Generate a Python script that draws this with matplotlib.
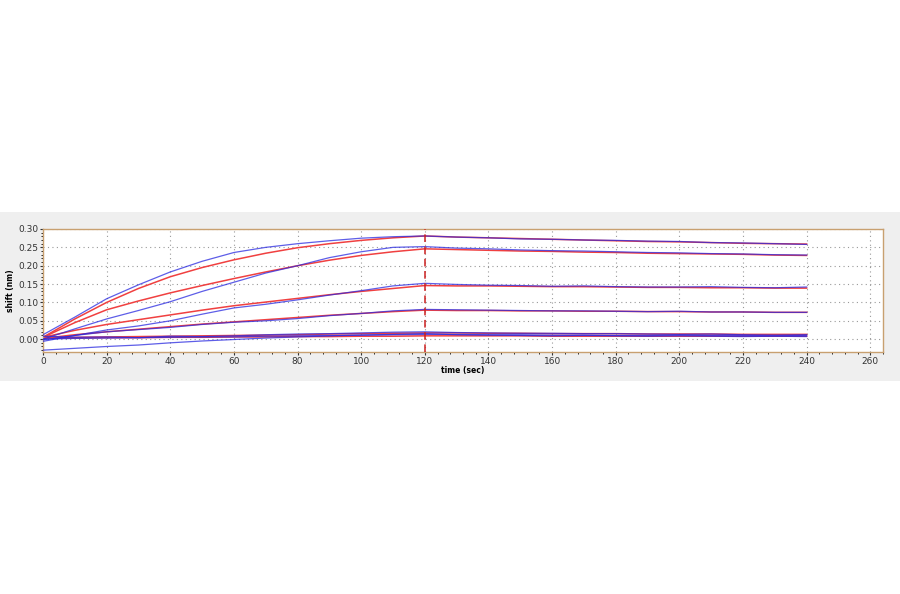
import numpy as np
import matplotlib.pyplot as plt
from matplotlib.ticker import MultipleLocator

# time axis of the sampled traces (sec)
t = [0, 10, 20, 30, 40, 50, 60, 70, 80, 90, 100, 110, 120,
     130, 140, 150, 160, 170, 180, 190, 200, 210, 220, 230, 240]

# measured traces (blue)
blue = [
    [0.012, 0.060, 0.110, 0.148, 0.183, 0.212, 0.236, 0.250, 0.260, 0.268, 0.275, 0.279, 0.281,
     0.278, 0.276, 0.273, 0.272, 0.270, 0.269, 0.267, 0.266, 0.263, 0.262, 0.260, 0.258],
    [0.000, 0.028, 0.055, 0.078, 0.102, 0.130, 0.155, 0.180, 0.200, 0.222, 0.238, 0.250, 0.252,
     0.248, 0.246, 0.243, 0.241, 0.240, 0.238, 0.236, 0.235, 0.233, 0.232, 0.230, 0.229],
    [-0.006, 0.010, 0.025, 0.036, 0.050, 0.068, 0.085, 0.095, 0.107, 0.120, 0.132, 0.145, 0.152,
     0.149, 0.147, 0.146, 0.144, 0.145, 0.143, 0.142, 0.142, 0.143, 0.141, 0.140, 0.142],
    [-0.002, 0.010, 0.020, 0.026, 0.032, 0.040, 0.046, 0.050, 0.056, 0.064, 0.070, 0.077, 0.081,
     0.080, 0.079, 0.078, 0.077, 0.077, 0.076, 0.075, 0.076, 0.074, 0.074, 0.073, 0.073],
    [0.008, 0.005, 0.006, 0.004, 0.008, 0.007, 0.009, 0.012, 0.014, 0.015, 0.017, 0.019, 0.020,
     0.018, 0.017, 0.016, 0.016, 0.015, 0.015, 0.014, 0.013, 0.014, 0.012, 0.011, 0.012],
    [-0.030, -0.025, -0.020, -0.016, -0.010, -0.005, -0.001, 0.003, 0.006, 0.009, 0.011, 0.013, 0.015,
     0.012, 0.011, 0.010, 0.009, 0.010, 0.009, 0.008, 0.009, 0.008, 0.007, 0.008, 0.007],
    [0.000, 0.002, 0.003, 0.004, 0.005, 0.006, 0.006, 0.008, 0.009, 0.010, 0.011, 0.012, 0.013,
     0.013, 0.012, 0.012, 0.011, 0.011, 0.010, 0.010, 0.011, 0.010, 0.010, 0.009, 0.010],
]

# fitted curves (red)
red = [
    [0.005, 0.055, 0.100, 0.138, 0.170, 0.195, 0.216, 0.234, 0.249, 0.260, 0.269, 0.276, 0.281,
     0.278, 0.276, 0.274, 0.272, 0.270, 0.268, 0.266, 0.265, 0.263, 0.261, 0.260, 0.259],
    [0.005, 0.045, 0.080, 0.104, 0.126, 0.146, 0.165, 0.183, 0.200, 0.215, 0.228, 0.238, 0.246,
     0.244, 0.242, 0.240, 0.239, 0.237, 0.236, 0.234, 0.233, 0.232, 0.231, 0.229, 0.228],
    [0.005, 0.024, 0.040, 0.053, 0.066, 0.079, 0.091, 0.101, 0.111, 0.121, 0.130, 0.138, 0.146,
     0.145, 0.145, 0.144, 0.143, 0.143, 0.142, 0.141, 0.141, 0.140, 0.140, 0.139, 0.139],
    [0.002, 0.012, 0.020, 0.027, 0.034, 0.041, 0.047, 0.053, 0.059, 0.065, 0.070, 0.075, 0.079,
     0.078, 0.078, 0.077, 0.077, 0.076, 0.076, 0.075, 0.075, 0.074, 0.074, 0.073, 0.073],
    [0.004, 0.005, 0.006, 0.007, 0.008, 0.009, 0.010, 0.011, 0.012, 0.014, 0.015, 0.016, 0.017,
     0.017, 0.016, 0.016, 0.015, 0.015, 0.015, 0.014, 0.014, 0.014, 0.013, 0.013, 0.013],
    [0.003, 0.003, 0.004, 0.004, 0.005, 0.005, 0.006, 0.006, 0.007, 0.007, 0.008, 0.008, 0.009,
     0.009, 0.009, 0.009, 0.008, 0.008, 0.008, 0.008, 0.008, 0.008, 0.008, 0.008, 0.008],
]

ASSOC_END = 120

fig = plt.figure(figsize=(9, 5.94), dpi=100)
fig.patch.set_facecolor("white")
# grey panel behind the plot
band = fig.add_axes([0, 1 - 381 / 594, 1, (381 - 212) / 594])
band.set_facecolor("#efefef")
band.set_xticks([])
band.set_yticks([])
for s in band.spines.values():
    s.set_visible(False)

ax = fig.add_axes([43 / 900, 1 - 352 / 594, (883 - 43) / 900, (352 - 229) / 594])
ax.set_facecolor("white")

for y in red:
    ax.plot(t, y, color="#f04040", lw=1.1, zorder=2)
for y in blue:
    ax.plot(t, y, color="#2828e0", lw=0.9, alpha=0.75, zorder=3)

ax.axvline(ASSOC_END, color="#cc2020", lw=1.1, ls=(0, (5, 3)), zorder=4)

ax.set_xlim(0, 264)
ax.set_ylim(-0.035, 0.30)
ax.xaxis.set_major_locator(MultipleLocator(20))
ax.xaxis.set_minor_locator(MultipleLocator(4))
ax.yaxis.set_major_locator(MultipleLocator(0.05))
ax.yaxis.set_minor_locator(MultipleLocator(0.01))
ax.yaxis.set_major_formatter(plt.FuncFormatter(lambda v, p: "%.2f" % v))
ax.grid(True, which="major", color="#999999", ls=(0, (1, 3)), lw=0.8)
ax.tick_params(labelsize=6.5, length=2, pad=1.5, colors="#333333")
ax.tick_params(which="minor", length=1.2)
for s in ax.spines.values():
    s.set_color("#c8a070")
    s.set_linewidth(1.0)

ax.set_xlabel("time (sec)", fontsize=5.5, fontweight="bold", labelpad=0)
ax.set_ylabel("shift (nm)", fontsize=5.5, fontweight="bold", labelpad=2)

fig.savefig("out.png", dpi=100)
